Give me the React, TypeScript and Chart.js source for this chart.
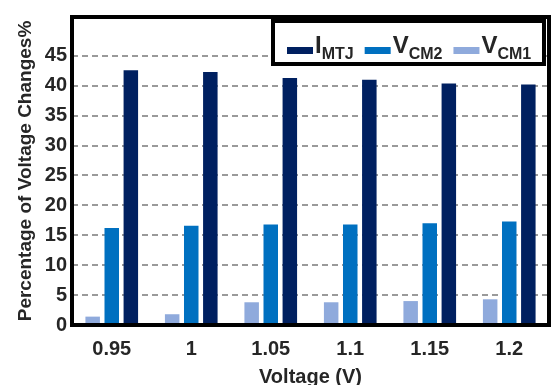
import React, { useEffect, useRef } from "react";
import { Chart, registerables } from "chart.js";

Chart.register(...registerables);

const categories = ["0.95", "1", "1.05", "1.1", "1.15", "1.2"];
const vcm1 = [1.4, 1.8, 3.8, 3.8, 4.0, 4.3];
const vcm2 = [16.2, 16.6, 16.8, 16.8, 17.0, 17.3];
const imtj = [42.6, 42.3, 41.3, 41.0, 40.4, 40.2];
const seriesLabels = ["VCM1", "VCM2", "IMTJ"];
const legendMain = ["I", "V", "V"];
const legendSub = ["MTJ", "CM2", "CM1"];
const colors = ["#8FAADC", "#0070C0", "#002060"];
const yTitle = "Percentage of Voltage Changes%";
const xTitle = "Voltage (V)";

const TEXT = "#262626";
const FONT = "'Liberation Sans', Arial, sans-serif";

export default function App() {
  const ref = useRef<HTMLCanvasElement | null>(null);
  useEffect(() => {
    if (!ref.current) return;
    const framePlugin = {
      id: "frameLegend",
      afterDraw(chart: any) {
        const { ctx, chartArea } = chart;
        ctx.save();
        ctx.strokeStyle = "#000";
        ctx.lineWidth = 4;
        ctx.strokeRect(chartArea.left, chartArea.top, chartArea.right - chartArea.left, chartArea.bottom - chartArea.top);
        ctx.lineWidth = 4;
        ctx.fillStyle = "#fff";
        ctx.fillRect(273, 21, 271, 43);
        ctx.strokeRect(273, 21, 271, 43);
        let x = 287;
        const order = [2, 1, 0];
        order.forEach((di, i) => {
          ctx.fillStyle = colors[di];
          ctx.fillRect(x, 47, 26, 7);
          x += 28;
          ctx.fillStyle = TEXT;
          ctx.textBaseline = "alphabetic";
          ctx.textAlign = "left";
          ctx.font = `bold 24px ${FONT}`;
          ctx.fillText(legendMain[i], x, 53);
          x += ctx.measureText(legendMain[i]).width;
          ctx.font = `bold 16px ${FONT}`;
          ctx.fillText(legendSub[i], x, 58.5);
          x += ctx.measureText(legendSub[i]).width + 11;
        });
        ctx.restore();
      },
    };
    const chart = new Chart(ref.current, {
      type: "bar",
      data: {
        labels: categories,
        datasets: [
          { label: seriesLabels[0], data: vcm1, backgroundColor: colors[0] },
          { label: seriesLabels[1], data: vcm2, backgroundColor: colors[1] },
          { label: seriesLabels[2], data: imtj, backgroundColor: colors[2] },
        ],
      },
      options: {
        responsive: false,
        animation: false,
        devicePixelRatio: 1,
        layout: { padding: { top: 13, right: 3, left: 0, bottom: 0 } },
        datasets: { bar: { categoryPercentage: 0.72, barPercentage: 0.76 } },
        plugins: { legend: { display: false }, tooltip: { enabled: false } },
        scales: {
          x: {
            grid: { display: false },
            border: { display: false },
            ticks: { color: TEXT, font: { size: 20, weight: "bold", family: FONT }, padding: 4 },
            title: {
              display: true,
              text: xTitle,
              color: TEXT,
              font: { size: 20, weight: "bold", family: FONT },
              padding: { top: 0, bottom: -4 },
            },
            afterFit(s: any) {
              s.height = 60;
            },
          },
          y: {
            min: 0,
            max: 51.5,
            border: { display: false, dash: [6, 4] },
            grid: { color: "#9A9A9A", lineWidth: 2, drawTicks: false },
            ticks: {
              stepSize: 5,
              color: TEXT,
              font: { size: 20, weight: "bold", family: FONT },
              padding: 5,
            },
            afterBuildTicks(s: any) {
              s.ticks = s.ticks.filter((t: any) => t.value <= 45);
            },
            title: {
              display: true,
              text: yTitle,
              color: TEXT,
              font: { size: 19, weight: "bold", family: FONT },
              padding: { top: 14, bottom: 0 },
            },
            afterFit(s: any) {
              s.width = 72;
            },
          },
        },
      },
      plugins: [framePlugin],
    } as any);
    return () => chart.destroy();
  }, []);
  return (
    <div style={{ position: "absolute", left: 0, top: 0, width: 552, height: 385, background: "#fff" }}>
      <canvas ref={ref} width={552} height={385} />
    </div>
  );
}
